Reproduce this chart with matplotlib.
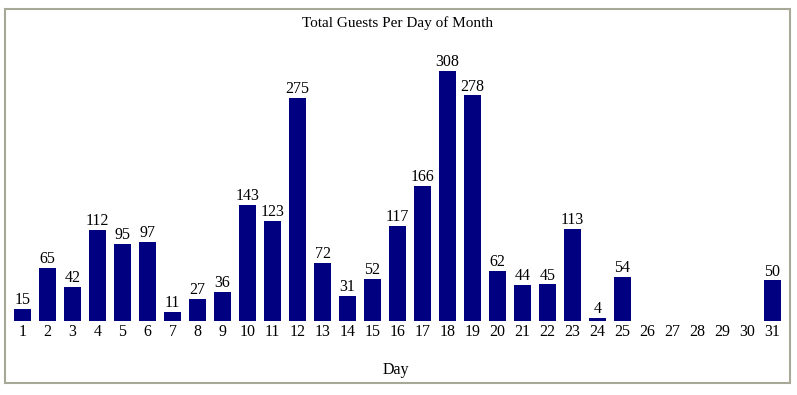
import matplotlib.pyplot as plt
from matplotlib.patches import Rectangle

days = list(range(1, 32))
guests = [15, 65, 42, 112, 95, 97, 11, 27, 36, 143, 123, 275, 72, 31, 52,
          117, 166, 308, 278, 62, 44, 45, 113, 4, 54, 0, 0, 0, 0, 0, 50]

W, H = 797, 395
plt.rcParams['font.family'] = ['Liberation Serif', 'DejaVu Serif']

fig = plt.figure(figsize=(W / 100, H / 100), dpi=100)
fig.patches.append(Rectangle((5 / W, (H - 383) / H), 785 / W, 374 / H,
                             transform=fig.transFigure, fill=False,
                             edgecolor='#a8a898', linewidth=1.5))

ax = fig.add_axes([10 / W, (H - 321) / H, 775 / W, 250 / H])
ax.bar(days, guests, width=0.68, color='#000080')
for d, g in zip(days, guests):
    if g > 0:
        ax.text(d, g + 1, str(g), ha='center', va='bottom', fontsize=11.5,
                color='black', clip_on=False)

ax.set_xlim(0.5, 31.5)
ax.set_ylim(0, 308)
ax.set_xticks(days)
ax.set_xticklabels([str(d) for d in days], fontsize=11.5)
ax.tick_params(axis='x', length=0, pad=2)
ax.set_yticks([])
for s in ax.spines.values():
    s.set_visible(False)
ax.patch.set_visible(False)

fig.text(397 / W, 1 - 23 / H, 'Total Guests Per Day of Month', ha='center',
         va='center', fontsize=11)
fig.text(396 / W, 1 - 370 / H, 'Day', ha='center', va='center', fontsize=11.5)

fig.savefig('out.png', dpi=100)
